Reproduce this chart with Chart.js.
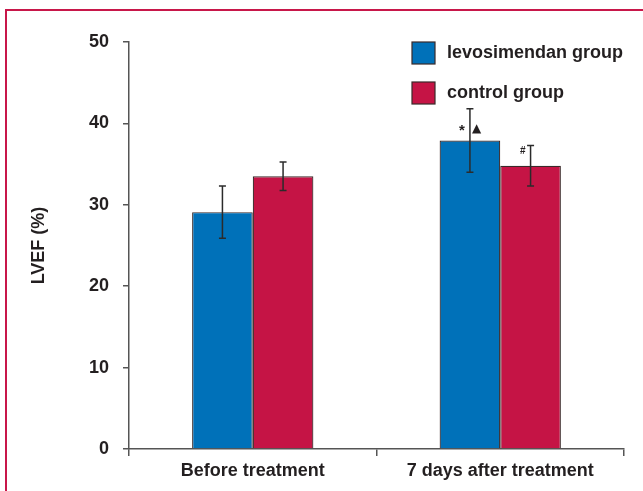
<!DOCTYPE html>
<html>
<head>
<meta charset="utf-8">
<script src="https://cdn.jsdelivr.net/npm/chart.js@4.4.0/dist/chart.umd.min.js"></script>
<style>
  html, body { margin: 0; padding: 0; background: #fff; overflow: hidden; }
  #wrap { position: relative; width: 643px; height: 491px; }
  #frame {
    position: absolute; left: 5px; top: 9px; width: 700px; height: 600px;
    border: 2px solid #c8174a; pointer-events: none;
  }
</style>
</head>
<body>
<div id="wrap">
  <canvas id="lvefChart" width="643" height="491"></canvas>
  <div id="frame"></div>
</div>
<script>
const categories = ['Before treatment', '7 days after treatment'];
const levoValues = [29.1, 37.9];
const levoErrors = [3.2, 3.9];
const controlValues = [33.5, 34.8];
const controlErrors = [1.75, 2.5];
// significance marks drawn left / right of each error bar
const levoMarks = [['', ''], ['*', '\u25B2']];
const controlMarks = [['', ''], ['#', '']];
const yTicks = [0, 10, 20, 30, 40, 50];

const textColor = '#231f20';
const axisColor = '#555';
const font = { family: 'Liberation Sans, Arial, Helvetica, sans-serif', size: 18, weight: 'bold' };

const errorBars = {
  id: 'errorBars',
  afterDatasetsDraw(chart) {
    const { ctx } = chart;
    const y = chart.scales.y;
    chart.data.datasets.forEach((ds, i) => {
      const meta = chart.getDatasetMeta(i);
      meta.data.forEach((bar, j) => {
        const v = ds.data[j];
        const e = ds.errors[j];
        const top = y.getPixelForValue(v + e);
        const bot = y.getPixelForValue(v - e);
        ctx.save();
        ctx.strokeStyle = '#2b2b2b';
        ctx.lineWidth = 1.5;
        ctx.beginPath();
        ctx.moveTo(bar.x, top); ctx.lineTo(bar.x, bot);
        ctx.moveTo(bar.x - 3.5, top); ctx.lineTo(bar.x + 3.5, top);
        ctx.moveTo(bar.x - 3.5, bot); ctx.lineTo(bar.x + 3.5, bot);
        ctx.stroke();

        const marks = ds.marks[j];
        const my = bar.y - 12;
        ctx.fillStyle = textColor;
        ctx.textBaseline = 'middle';
        if (marks[0]) {
          ctx.font = marks[0] === '#' ? 'bold 10px Liberation Sans, Arial' : 'bold 15px Liberation Sans, Arial';
          ctx.textAlign = 'right';
          ctx.fillText(marks[0], bar.x - 5, marks[0] === '*' ? my + 2 : my - 2);
        }
        if (marks[1]) {
          ctx.font = '12px DejaVu Sans, sans-serif';
          ctx.textAlign = 'left';
          ctx.fillText(marks[1], bar.x + 2, my);
        }
        ctx.restore();
      });
    });
  }
};

const boxLegend = {
  id: 'boxLegend',
  afterDraw(chart) {
    const { ctx, chartArea } = chart;
    chart.data.datasets.forEach((ds, i) => {
      const bx = chartArea.right - 212;
      const by = chartArea.top + i * 40;
      ctx.save();
      ctx.fillStyle = ds.backgroundColor;
      ctx.strokeStyle = '#3a2a2a';
      ctx.lineWidth = 1.2;
      ctx.fillRect(bx, by, 23, 22);
      ctx.strokeRect(bx, by, 23, 22);
      ctx.fillStyle = textColor;
      ctx.font = `${font.weight} ${font.size}px ${font.family}`;
      ctx.textAlign = 'left';
      ctx.textBaseline = 'middle';
      ctx.fillText(ds.label, bx + 35, by + 11);
      ctx.restore();
    });
  }
};

new Chart(document.getElementById('lvefChart'), {
  type: 'bar',
  data: {
    labels: categories,
    datasets: [
      {
        label: 'levosimendan group',
        data: levoValues,
        errors: levoErrors,
        marks: levoMarks,
        backgroundColor: '#0071b9',
        borderColor: '#3a2a2a',
        borderWidth: 1.2,
        barPercentage: 1,
        categoryPercentage: 0.49
      },
      {
        label: 'control group',
        data: controlValues,
        errors: controlErrors,
        marks: controlMarks,
        backgroundColor: '#c51445',
        borderColor: '#3a2a2a',
        borderWidth: 1.2,
        barPercentage: 1,
        categoryPercentage: 0.49
      }
    ]
  },
  options: {
    responsive: false,
    animation: false,
    layout: { padding: { left: 20, top: 42, right: 19, bottom: 0 } },
    plugins: {
      legend: { display: false },
      tooltip: { enabled: false }
    },
    scales: {
      x: {
        grid: { offset: true, drawOnChartArea: false, tickLength: 7, color: axisColor, lineWidth: 1.5 },
        border: { color: axisColor, width: 1.5 },
        ticks: { color: textColor, font: font, padding: 4, maxRotation: 0 },
        afterFit: s => { s.height = 42; }
      },
      y: {
        min: 0,
        max: 50,
        afterBuildTicks: s => { s.ticks = yTicks.map(v => ({ value: v })); },
        grid: { drawOnChartArea: false, tickLength: 6, color: axisColor, lineWidth: 1.5 },
        border: { color: axisColor, width: 1.5 },
        ticks: { color: textColor, font: font, padding: 14 },
        title: { display: true, text: 'LVEF (%)', color: textColor, font: font, padding: { top: 8, bottom: 0 } },
        afterFit: s => { s.width = 109; }
      }
    }
  },
  plugins: [errorBars, boxLegend]
});
</script>
</body>
</html>
